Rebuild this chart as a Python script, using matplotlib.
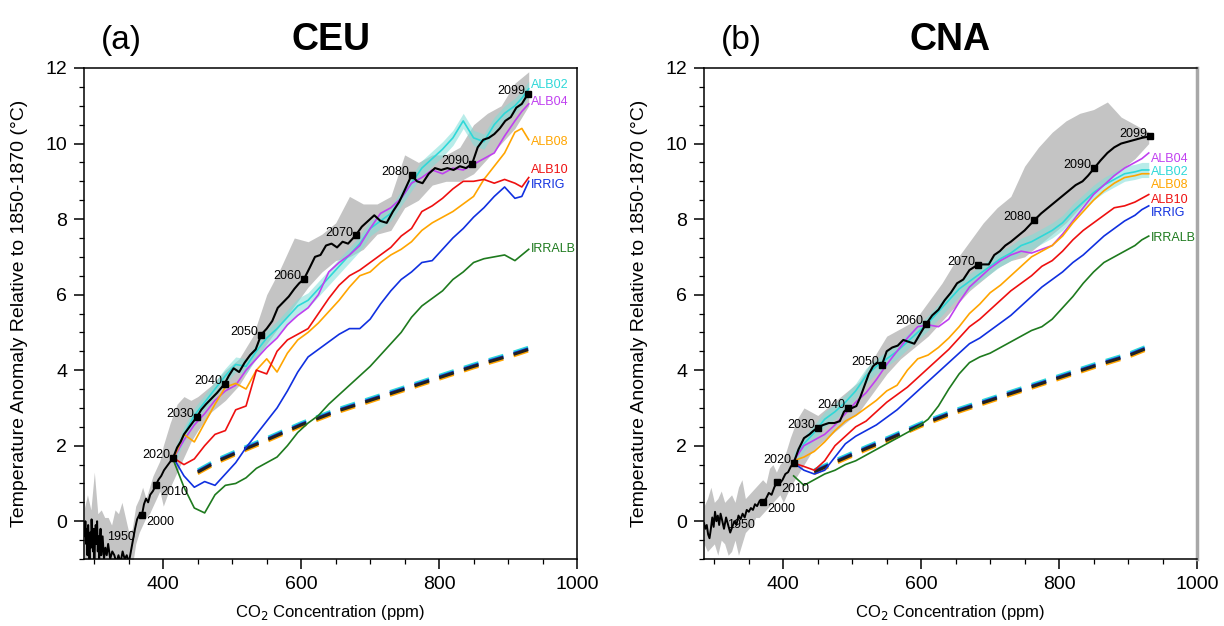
import matplotlib
matplotlib.use("Agg")
import matplotlib.pyplot as plt
from matplotlib.ticker import MultipleLocator

plt.rcParams['font.family'] = ['Liberation Sans', 'DejaVu Sans']

# ---------------- shared x grids (CO2, ppm) ----------------
grid = [415, 430, 445, 460, 475, 490, 505, 520, 535, 550, 565, 580, 595, 610, 625,
        640, 655, 670, 685, 700, 715, 730, 745, 760, 775, 790, 805, 820, 835, 850,
        865, 880, 895, 910, 920, 930]
shade_hist_x = [285, 290, 295, 300, 305, 310, 315, 320, 325, 330, 335, 340, 345, 350,
                355, 360, 365, 370, 375, 380, 385, 390, 395]
shade_fut_x = [400, 410, 420, 430, 440, 450, 470, 490, 510, 530, 550, 570, 590, 610,
               630, 650, 670, 690, 710, 730, 750, 770, 790, 810, 830, 850, 870, 890,
               910, 930]
series_names = ["ALB02", "ALB04", "ALB08", "ALB10", "IRRIG", "IRRALB"]
series_colors = ["#2fd8d8", "#c040f0", "#ffa500", "#ee1010", "#1030e0", "#1e7a1e"]
decade_years = [2000, 2010, 2020, 2030, 2040, 2050, 2060, 2070, 2080, 2090, 2099]

# ---------------- CEU ----------------
ceu_hist_x = [285, 286, 287, 288, 289, 290, 291, 292, 293, 294, 295, 296, 297, 298, 299,
              300, 301, 302, 303, 304, 305, 306, 307, 308, 309, 310, 312, 314, 316, 318,
              320, 323, 326, 329, 332, 335, 338, 341, 344, 347, 350, 353, 356, 359, 362,
              366, 369, 372, 375, 378, 381, 385, 389, 393, 397, 401, 405, 409, 414]
ceu_hist_y = [-0.1, -0.4, 0.0, -0.6, -0.2, -0.9, -0.1, -0.5, -1.0, -0.3,
              -0.7, 0.05, -0.4, -0.8, -0.2, -1.0, -0.5, -0.1, -0.6, 0.0,
              -0.8, -0.4, -1.0, -0.6, -0.2, -0.9,
              -0.4, -1.0, -0.7, -0.9, -0.6,
              -1.0, -0.8, -0.9, -1.1, -0.9, -1.1, -0.8, -1.0, -0.9, -1.1,
              -0.8, -0.5, -0.2, 0.05, 0.2, 0.16,
              0.45, 0.6, 0.5, 0.7, 0.8, 0.95,
              1.1, 1.2, 1.35, 1.45, 1.55, 1.67]
ceu_ctl_x = [414, 420, 425, 430, 436, 442, 449, 455, 462, 470, 478, 489, 495, 502, 510,
             518, 526, 534, 542, 550, 558, 566, 574, 582, 590, 597, 604, 612, 620, 628,
             636, 644, 652, 660, 668, 679, 688, 697, 706, 715, 724, 733, 742, 751, 760,
             768, 776, 785, 794, 803, 812, 821, 830, 839, 848, 856, 864, 872, 880, 888,
             896, 904, 912, 920, 929]
ceu_ctl_y = [1.67, 1.95, 2.1, 2.3, 2.45, 2.6, 2.77, 2.95, 3.1, 3.25, 3.4, 3.64, 3.85, 4.05, 3.95,
             4.2, 4.4, 4.55, 4.94, 5.1, 5.3, 5.65, 5.8, 5.95, 6.15, 6.3, 6.41, 6.7, 7.0, 7.05,
             7.3, 7.35, 7.25, 7.4, 7.35, 7.57, 7.8, 7.95, 8.1, 7.95, 7.9, 8.2, 8.45, 8.8, 9.16,
             9.0, 8.95, 9.2, 9.35, 9.3, 9.35, 9.3, 9.4, 9.35, 9.47, 9.9, 10.1, 10.15, 10.25, 10.4,
             10.6, 10.7, 10.95, 11.05, 11.32]
ceu_dot_x = [369, 389, 414, 449, 489, 542, 604, 679, 760, 848, 929]
ceu_dot_y = [0.16, 0.95, 1.67, 2.77, 3.64, 4.94, 6.41, 7.57, 9.16, 9.47, 11.32]
ceu_alb02 = [1.67, 2.3, 2.8, 3.15, 3.5, 3.85, 4.15, 4.1, 4.5, 4.85, 5.1, 5.4, 5.7, 5.85, 6.15,
             6.45, 6.75, 7.05, 7.35, 7.75, 7.95, 8.15, 8.55, 8.95, 9.35, 9.6, 9.85, 10.15, 10.6, 10.15,
             10.05, 10.5, 10.8, 11.0, 11.2, 11.45]
ceu_alb04 = [1.67, 2.15, 2.55, 2.85, 3.2, 3.45, 3.6, 4.0, 4.3, 4.6, 4.85, 5.2, 5.45, 5.65, 6.0,
             6.6, 6.85, 7.05, 7.3, 7.75, 8.15, 8.3, 8.55, 8.95, 9.1, 9.3, 9.2, 9.35, 9.3, 9.45,
             9.6, 9.75, 10.2, 10.6, 10.85, 11.05]
ceu_alb08 = [1.67, 2.3, 2.1, 2.6, 3.1, 3.55, 3.65, 3.5, 4.0, 4.3, 3.95, 4.45, 4.8, 5.0, 5.25,
             5.55, 5.85, 6.2, 6.5, 6.6, 6.85, 7.05, 7.2, 7.4, 7.7, 7.9, 8.05, 8.2, 8.4, 8.6,
             9.05, 9.4, 9.75, 10.3, 10.4, 10.1]
ceu_alb10 = [1.67, 1.5, 1.65, 2.0, 2.3, 2.4, 2.95, 3.05, 4.0, 3.9, 4.5, 4.8, 4.95, 5.1, 5.5,
             5.9, 6.25, 6.5, 6.65, 6.85, 7.05, 7.25, 7.55, 7.75, 8.2, 8.35, 8.55, 8.8, 9.0, 9.0,
             9.05, 8.95, 9.05, 8.95, 8.85, 9.1]
ceu_irrig = [1.67, 1.2, 0.9, 1.05, 0.95, 1.25, 1.55, 1.95, 2.3, 2.65, 3.0, 3.45, 3.95, 4.35, 4.55,
             4.75, 4.95, 5.1, 5.1, 5.35, 5.75, 6.1, 6.4, 6.6, 6.85, 6.9, 7.2, 7.5, 7.75, 8.05,
             8.3, 8.6, 8.85, 8.55, 8.6, 9.0]
ceu_irralb = [1.6, 0.9, 0.35, 0.22, 0.7, 0.95, 1.0, 1.15, 1.4, 1.55, 1.7, 2.0, 2.35, 2.6, 2.8,
              3.1, 3.35, 3.6, 3.85, 4.1, 4.4, 4.7, 5.0, 5.4, 5.7, 5.9, 6.1, 6.4, 6.6, 6.85,
              6.95, 7.0, 7.05, 6.9, 7.05, 7.2]
ceu_co2only_x = [450, 480, 520, 550, 600, 650, 700, 750, 800, 850, 900, 930]
ceu_co2only_y = [1.3, 1.6, 1.92, 2.15, 2.55, 2.9, 3.2, 3.5, 3.8, 4.1, 4.37, 4.55]
ceu_spread_hist_hi = [0.3, 0.7, 0.3, 1.3, 0.2, 0.3, 0.1, 0.1, -0.1, 0.3, 0.2, 0.5, 0.1, -0.3,
                      -0.2, 0.4, 0.6, 0.9, 0.6, 0.9, 1.2, 1.4, 1.6]
ceu_spread_hist_lo = [-1.2, -1.2, -1.2, -1.2, -1.2, -1.2, -1.2, -1.2, -1.2, -1.2, -1.2, -1.2,
                      -1.2, -1.2, -1.2, -0.6, -0.3, -0.1, 0.1, 0.2, 0.4, 0.6, 0.8]
ceu_spread_hi = [2.0, 2.6, 3.1, 3.3, 3.2, 3.3, 3.6, 4.0, 4.3, 4.9, 6.0, 6.7, 7.5, 7.4, 7.6,
                 7.9, 8.6, 8.4, 8.4, 8.6, 9.7, 9.5, 9.7, 9.7, 9.9, 10.5, 10.8, 11.0, 11.6, 11.9]
ceu_spread_lo = [0.4, 0.9, 1.3, 1.7, 2.1, 2.4, 2.9, 3.2, 3.6, 4.2, 4.7, 5.2, 5.7, 6.2, 6.6,
                 6.9, 7.0, 7.2, 7.6, 7.7, 8.3, 8.5, 8.9, 9.0, 9.0, 9.2, 9.6, 10.0, 10.4, 11.0]
ceu_label_y = [11.55, 11.1, 10.05, 9.3, 8.9, 7.2]

# ---------------- CNA ----------------
cna_hist_x = [285, 287, 289, 291, 293, 295, 297, 299, 301, 303, 305, 307, 309, 311,
              314, 317, 320, 323, 326, 329, 332, 335, 338, 341,
              344, 347, 350, 353, 356, 359, 362, 366,
              371, 375, 379, 383, 387, 391, 395, 399, 403, 407, 411, 415]
cna_hist_y = [-0.05, -0.2, -0.1, -0.35, -0.45, -0.2, 0.1, -0.15, 0.25, 0.0,
              0.15, -0.1, 0.2, 0.05,
              -0.2, 0.1, -0.1, -0.3, -0.15, 0.0, -0.1, 0.15, 0.05, 0.2,
              0.1, 0.3, 0.25, 0.35, 0.3, 0.45, 0.4, 0.55,
              0.5, 0.6, 0.75, 0.7, 0.9, 1.03, 1.0, 1.1,
              1.25, 1.3, 1.45, 1.54]
cna_ctl_x = [415, 422, 430, 438, 444, 450, 458, 466, 474, 482, 488, 494, 500, 506, 512,
             518, 524, 530, 536, 543, 550, 558, 566, 574, 582, 590, 598, 607, 616, 625,
             634, 643, 652, 661, 670, 682, 690, 698, 706, 714, 722, 730, 740, 750, 764,
             774, 784, 794, 804, 814, 824, 834, 842, 851, 860, 870, 880, 890, 900, 910,
             920, 932]
cna_ctl_y = [1.54, 1.9, 2.2, 2.3, 2.4, 2.48, 2.55, 2.6, 2.6, 2.65, 2.9, 3.0, 3.0, 3.05, 3.3,
             3.6, 3.9, 4.1, 4.2, 4.14, 4.5, 4.6, 4.65, 4.8, 4.75, 4.7, 4.95, 5.22, 5.45, 5.6,
             5.85, 6.05, 6.3, 6.4, 6.65, 6.79, 6.8, 6.8, 7.05, 7.15, 7.3, 7.4, 7.55, 7.7, 7.97,
             8.15, 8.3, 8.45, 8.6, 8.75, 8.9, 9.0, 9.15, 9.35, 9.55, 9.75, 9.9, 10.0, 10.05, 10.1,
             10.15, 10.19]
cna_dot_x = [371, 391, 415, 450, 494, 543, 607, 682, 764, 851, 932]
cna_dot_y = [0.5, 1.03, 1.54, 2.48, 3.0, 4.14, 5.22, 6.79, 7.97, 9.35, 10.19]
cna_alb02 = [1.6, 2.05, 2.35, 2.7, 2.9, 3.15, 3.45, 3.85, 4.1, 4.3, 4.5, 4.75, 5.0, 5.25, 5.55,
             5.85, 6.15, 6.35, 6.55, 6.75, 6.95, 7.1, 7.3, 7.4, 7.55, 7.7, 7.9, 8.2, 8.45, 8.7,
             8.9, 9.05, 9.2, 9.25, 9.3, 9.3]
cna_alb04 = [1.6, 2.0, 2.15, 2.3, 2.55, 2.85, 3.15, 3.4, 3.75, 4.15, 4.5, 4.85, 5.15, 5.2, 5.15,
             5.35, 5.8, 6.2, 6.45, 6.7, 6.9, 7.05, 7.15, 7.1, 7.2, 7.3, 7.6, 7.95, 8.3, 8.65,
             8.9, 9.15, 9.35, 9.5, 9.6, 9.75]
cna_alb08 = [1.6, 1.7, 1.85, 2.1, 2.4, 2.65, 2.8, 3.0, 3.2, 3.45, 3.6, 4.0, 4.3, 4.4, 4.6,
             4.85, 5.15, 5.5, 5.75, 6.05, 6.25, 6.5, 6.75, 7.0, 7.15, 7.3, 7.55, 7.9, 8.2, 8.5,
             8.75, 8.95, 9.1, 9.15, 9.2, 9.2]
cna_alb10 = [1.54, 1.45, 1.35, 1.6, 2.0, 2.25, 2.5, 2.65, 2.9, 3.15, 3.35, 3.55, 3.8, 4.05, 4.3,
             4.55, 4.85, 5.15, 5.35, 5.6, 5.85, 6.1, 6.3, 6.5, 6.75, 6.9, 7.15, 7.45, 7.7, 7.9,
             8.1, 8.3, 8.35, 8.45, 8.55, 8.65]
cna_irrig = [1.54, 1.35, 1.25, 1.35, 1.7, 2.05, 2.25, 2.4, 2.55, 2.75, 2.95, 3.2, 3.45, 3.7, 3.95,
             4.2, 4.45, 4.7, 4.85, 5.05, 5.25, 5.45, 5.7, 5.95, 6.2, 6.4, 6.6, 6.85, 7.05, 7.3,
             7.55, 7.75, 7.95, 8.1, 8.25, 8.35]
cna_irralb = [1.2, 0.95, 1.1, 1.25, 1.35, 1.5, 1.6, 1.75, 1.9, 2.05, 2.2, 2.35, 2.5, 2.7, 3.05,
              3.5, 3.9, 4.2, 4.35, 4.45, 4.6, 4.75, 4.9, 5.05, 5.15, 5.35, 5.65, 5.95, 6.3, 6.6,
              6.85, 7.0, 7.15, 7.3, 7.45, 7.55]
cna_co2only_x = [445, 480, 520, 550, 600, 650, 700, 750, 800, 850, 900, 930]
cna_co2only_y = [1.3, 1.6, 1.92, 2.15, 2.55, 2.9, 3.2, 3.5, 3.8, 4.1, 4.38, 4.6]
cna_spread_hist_hi = [0.4, 0.6, 0.9, 0.5, 0.6, 0.8, 0.5, 0.6, 0.7, 0.5, 0.9, 1.1, 0.6, 0.7,
                      0.8, 0.9, 1.0, 1.1, 1.0, 1.4, 1.5, 1.3, 1.5]
cna_spread_hist_lo = [-0.6, -0.8, -0.7, -0.6, -0.9, -0.5, -0.6, -0.9, -0.8, -0.5, -0.9, -0.6,
                      -0.3, -0.2, -0.1, 0.1, 0.1, 0.2, 0.3, 0.4, 0.5, 0.6, 0.7]
cna_spread_hi = [1.6, 2.2, 2.7, 3.0, 2.9, 2.8, 3.1, 3.4, 3.7, 4.3, 4.9, 5.1, 5.3, 5.8, 6.3,
                 6.9, 7.4, 7.9, 8.3, 8.6, 9.4, 9.9, 10.3, 10.6, 10.8, 10.9, 11.1, 10.7, 10.5, 10.3]
cna_spread_lo = [0.5, 0.9, 1.2, 1.5, 1.8, 2.0, 2.3, 2.6, 2.9, 3.4, 3.9, 4.3, 4.6, 4.9, 5.3,
                 5.7, 6.1, 6.4, 6.7, 6.9, 7.0, 7.3, 7.6, 7.9, 8.3, 8.7, 9.0, 9.3, 9.6, 10.0]
cna_label_y = [9.25, 9.6, 8.9, 8.5, 8.15, 7.5]

panels = [
    dict(tag="(a)", name="CEU", hist_x=ceu_hist_x, hist_y=ceu_hist_y, ctl_x=ceu_ctl_x,
         ctl_y=ceu_ctl_y, dot_x=ceu_dot_x, dot_y=ceu_dot_y,
         series=[ceu_alb02, ceu_alb04, ceu_alb08, ceu_alb10, ceu_irrig, ceu_irralb],
         co2_x=ceu_co2only_x, co2_y=ceu_co2only_y,
         sh_hi=ceu_spread_hist_hi + ceu_spread_hi, sh_lo=ceu_spread_hist_lo + ceu_spread_lo,
         label_y=ceu_label_y, y1950=-0.42),
    dict(tag="(b)", name="CNA", hist_x=cna_hist_x, hist_y=cna_hist_y, ctl_x=cna_ctl_x,
         ctl_y=cna_ctl_y, dot_x=cna_dot_x, dot_y=cna_dot_y,
         series=[cna_alb02, cna_alb04, cna_alb08, cna_alb10, cna_irrig, cna_irralb],
         co2_x=cna_co2only_x, co2_y=cna_co2only_y,
         sh_hi=cna_spread_hist_hi + cna_spread_hi, sh_lo=cna_spread_hist_lo + cna_spread_lo,
         label_y=cna_label_y, y1950=-0.1),
]

fig = plt.figure(figsize=(12.24, 6.26), dpi=100)
lefts = [84 / 1224, 704 / 1224]
ax_w, ax_b, ax_h = 493 / 1224, 1 - 559 / 626, 491 / 626

for i, p in enumerate(panels):
    ax = fig.add_axes([lefts[i], ax_b, ax_w, ax_h])
    sx = shade_hist_x + shade_fut_x
    ax.fill_between(sx, p["sh_lo"], p["sh_hi"], color="#c4c4c4", lw=0, zorder=1)
    # ALB02 spread
    ax.fill_between(grid, [v - 0.2 for v in p["series"][0]], [v + 0.2 for v in p["series"][0]],
                    color="#7fded8", alpha=0.55, lw=0, zorder=1.5)

    # CO2-only response (dashed, one per experiment)
    dash_cols = ["#2fd8d8", "#ffa500", "#1030e0", "#222222"]
    offs = [0.06, -0.04, 0.02, 0.0]
    for c, o in zip(dash_cols, offs):
        ax.plot(p["co2_x"], [v + o for v in p["co2_y"]], color=c, lw=2.2,
                dashes=(5, 3.5), zorder=2)

    for s, col in zip(p["series"], series_colors):
        ax.plot(grid, s, color=col, lw=1.2, zorder=3)

    ax.plot(p["hist_x"], p["hist_y"], color="black", lw=1.4, zorder=4)
    ax.plot(p["ctl_x"], p["ctl_y"], color="black", lw=1.5, zorder=4)
    ax.plot(p["dot_x"], p["dot_y"], "s", color="black", ms=4, zorder=5)

    for yr, dx, dy in zip(decade_years, p["dot_x"], p["dot_y"]):
        if yr in (2000, 2010):
            ax.annotate(str(yr), (dx, dy), xytext=(3, -5), textcoords="offset points",
                        fontsize=9, ha="left", va="center", zorder=6)
        else:
            ax.annotate(str(yr), (dx, dy), xytext=(-2, 2), textcoords="offset points",
                        fontsize=9, ha="right", va="center", zorder=6)
    ax.text(318, p["y1950"], "1950", fontsize=9, ha="left", va="center", zorder=6)

    for nm, col, ly in zip(series_names, series_colors, p["label_y"]):
        ax.text(933, ly, nm, color=col, fontsize=9, ha="left", va="center", zorder=6)

    ax.set_xlim(285, 1000)
    ax.set_ylim(-1, 12)
    ax.xaxis.set_major_locator(MultipleLocator(200))
    ax.xaxis.set_minor_locator(MultipleLocator(50))
    ax.yaxis.set_major_locator(MultipleLocator(2))
    ax.yaxis.set_minor_locator(MultipleLocator(0.5))
    ax.tick_params(which="major", direction="out", length=7, width=1.1, labelsize=14, pad=5)
    ax.tick_params(which="minor", direction="out", length=3.5, width=0.9)
    for sp in ax.spines.values():
        sp.set_linewidth(1.1)
    if i == 1:
        ax.spines["right"].set_color("#a8a8a8")
        ax.spines["right"].set_linewidth(2.5)

    cx = lefts[i] + ax_w / 2
    fig.text(lefts[i] + (121 - 84) / 1224, 1 - 40 / 626, p["tag"],
             fontsize=24, ha="center", va="center")
    fig.text(cx, 1 - 40 / 626, p["name"], fontsize=27, fontweight="bold",
             ha="center", va="center")
    fig.text(lefts[i] - 64 / 1224, ax_b + ax_h / 2,
             "Temperature Anomaly Relative to 1850-1870 (°C)", rotation=90,
             fontsize=14, ha="center", va="center")
    fig.text(cx, 1 - 612 / 626, "CO$_2$ Concentration (ppm)", fontsize=12,
             ha="center", va="center")

fig.savefig("out.png", dpi=100)
